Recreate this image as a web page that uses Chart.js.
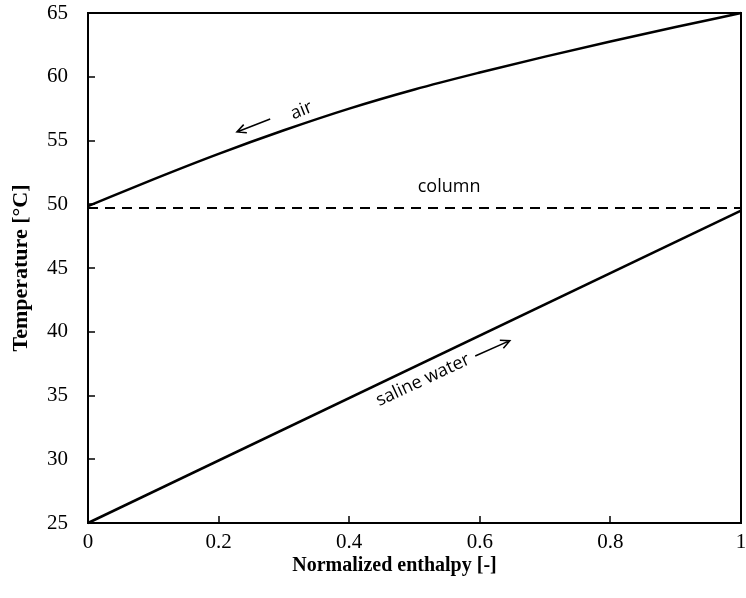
<!DOCTYPE html>
<html>
<head>
<meta charset="utf-8">
<script src="https://cdn.jsdelivr.net/npm/chart.js@4.4.1/dist/chart.umd.min.js"></script>
<style>
html,body{margin:0;padding:0;background:#fff;}
#wrap{width:746px;height:598px;position:relative;}
</style>
</head>
<body>
<div id="wrap"><canvas id="c" width="746" height="598"></canvas></div>
<script>
// Data
const enthalpy = [0, 0.1, 0.2, 0.3, 0.4, 0.5, 0.6, 0.7, 0.8, 0.9, 1.0];
const airTemp = [49.85, 51.95, 53.95, 55.8, 57.5, 59.0, 60.33, 61.58, 62.76, 63.9, 65.0];
const salineX = [0, 1];
const salineTemp = [25.0, 49.5];
const columnX = [0, 1];
const columnTemp = [49.7, 49.7];
const xTicks = [0, 0.2, 0.4, 0.6, 0.8, 1];
const yTicks = [25, 30, 35, 40, 45, 50, 55, 60, 65];
const xTitle = 'Normalized enthalpy [-]';
const yTitle = 'Temperature [°C]';

const labels = [
  {text: 'air', x: 0.327, y: 57.35, rot: -22},
  {text: 'column', x: 0.553, y: 51.35, rot: 0},
  {text: 'saline water', x: 0.513, y: 36.2, rot: -25}
];
const arrows = [
  {x1: 0.279, y1: 56.69, x2: 0.228, y2: 55.67},
  {x1: 0.593, y1: 38.1, x2: 0.646, y2: 39.3}
];

function pts(xs, ys){ return xs.map((x,i)=>({x:x, y:ys[i]})); }

const serif = "'Liberation Serif', 'Times New Roman', serif";

const decor = {
  id: 'decor',
  afterDatasetsDraw(chart){
    const ctx = chart.ctx, a = chart.chartArea;
    const xs = chart.scales.x, ys = chart.scales.y;
    ctx.save();
    ctx.strokeStyle = '#000';
    ctx.lineWidth = 2;
    ctx.strokeRect(a.left, a.top, a.right - a.left, a.bottom - a.top);
    ctx.lineWidth = 1.5;
    ctx.beginPath();
    yTicks.forEach(v => {
      const py = Math.round(ys.getPixelForValue(v));
      ctx.moveTo(a.left, py); ctx.lineTo(a.left + 7, py);
    });
    xTicks.forEach(v => {
      const px = Math.round(xs.getPixelForValue(v));
      ctx.moveTo(px, a.bottom); ctx.lineTo(px, a.bottom - 7);
    });
    ctx.stroke();
    ctx.fillStyle = '#000';
    ctx.font = "18px 'Open Sans', 'DejaVu Sans', sans-serif";
    ctx.textAlign = 'center';
    ctx.textBaseline = 'middle';
    labels.forEach(l => {
      ctx.save();
      ctx.translate(xs.getPixelForValue(l.x), ys.getPixelForValue(l.y));
      ctx.rotate(l.rot * Math.PI / 180);
      ctx.fillText(l.text, 0, 0);
      ctx.restore();
    });
    ctx.lineWidth = 1.5;
    arrows.forEach(ar => {
      const x1 = xs.getPixelForValue(ar.x1), y1 = ys.getPixelForValue(ar.y1);
      const x2 = xs.getPixelForValue(ar.x2), y2 = ys.getPixelForValue(ar.y2);
      const ang = Math.atan2(y2 - y1, x2 - x1);
      ctx.beginPath();
      ctx.moveTo(x1, y1); ctx.lineTo(x2, y2);
      const h = 10;
      ctx.moveTo(x2 - h*Math.cos(ang - 0.45), y2 - h*Math.sin(ang - 0.45));
      ctx.lineTo(x2, y2);
      ctx.lineTo(x2 - h*Math.cos(ang + 0.45), y2 - h*Math.sin(ang + 0.45));
      ctx.stroke();
    });
    // x axis title (slightly left of plot centre, as in the original)
    ctx.font = "bold 20px " + serif;
    ctx.fillText(xTitle, (a.left + a.right) / 2 - 20, 566);
    ctx.restore();
  }
};

new Chart(document.getElementById('c'), {
  type: 'scatter',
  data: {
    datasets: [
      {label: 'air', data: pts(enthalpy, airTemp), showLine: true, borderColor: '#000', borderWidth: 2.5, pointRadius: 0, cubicInterpolationMode: 'monotone'},
      {label: 'column', data: pts(columnX, columnTemp), showLine: true, borderColor: '#000', borderWidth: 2, borderDash: [10, 7], pointRadius: 0},
      {label: 'saline water', data: pts(salineX, salineTemp), showLine: true, borderColor: '#000', borderWidth: 2.5, pointRadius: 0}
    ]
  },
  options: {
    responsive: false,
    animation: false,
    clip: false,
    layout: {padding: {top: 13, right: 5, left: 0, bottom: 0}},
    plugins: {legend: {display: false}, tooltip: {enabled: false}},
    scales: {
      x: {
        type: 'linear', min: 0, max: 1,
        afterBuildTicks: s => { s.ticks = xTicks.map(v => ({value: v})); },
        afterFit: s => { s.height = 75; s.paddingLeft = 0; s.paddingRight = 0; },
        grid: {drawOnChartArea: false, drawTicks: false},
        border: {display: false},
        ticks: {color: '#000', padding: 7, font: {family: serif, size: 21}, maxRotation: 0,
          callback: v => String(v)},
        title: {display: false}
      },
      y: {
        type: 'linear', min: 25, max: 65,
        afterBuildTicks: s => { s.ticks = yTicks.map(v => ({value: v})); },
        afterFit: s => { s.width = 88; s.paddingTop = 0; s.paddingBottom = 0; },
        grid: {drawOnChartArea: false, drawTicks: false},
        border: {display: false},
        ticks: {color: '#000', padding: 20, font: {family: serif, size: 21}},
        title: {display: true, text: yTitle, color: '#000', padding: {bottom: 0, top: 8}, font: {family: serif, size: 22, weight: 'bold'}}
      }
    }
  },
  plugins: [decor]
});
</script>
</body>
</html>
